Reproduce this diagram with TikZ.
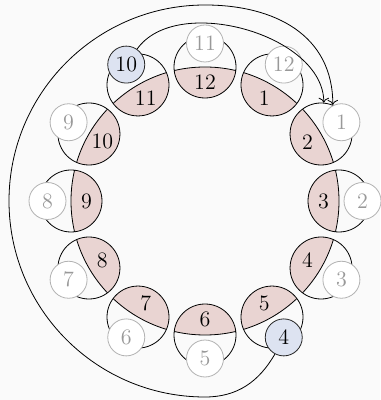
\documentclass[tikz,border=0pt]{standalone}
\usetikzlibrary{arrows.meta}
\definecolor{segpink}{RGB}{233,212,210}
\definecolor{markblue}{RGB}{221,227,241}
\definecolor{paper}{RGB}{250,250,250}
\tikzstyle{hour} = [draw, circle, minimum size=31pt, inner sep=0pt]
\tikzstyle{tag} = [draw=black!30, fill=white, circle, text=black!40, minimum size=18.5pt, inner sep=0pt]
\tikzstyle{marked} = [tag, draw=black!85, fill=markblue, text=black]
\tikzstyle{arrow} = [->]

\begin{document}
\begin{tikzpicture}[x=0.5pt, y=0.5pt, font=\fontsize{11}{13}\selectfont]
\useasboundingbox (-205,-199) rectangle (175,201);
\fill[paper] (-205,-199) rectangle (175,201);
% Hours
\foreach \i/\s in {1/tag, 2/tag, 3/tag, 4/tag, 5/marked, 6/tag, 7/tag, 8/tag, 9/tag, 10/tag, 11/marked, 12/tag} {
  \pgfmathsetmacro\a{90-30*\i}
  \pgfmathtruncatemacro\p{mod(\i+10,12)+1}
  \begin{scope}
    \clip (\a:134) circle [radius=31];
    \fill[segpink] (0,0) circle [radius=134];
    \draw (0,0) circle [radius=134];
  \end{scope}
  \node (hour\i) [hour] at (\a:134) {};
  \node (num\i) at (\a:118.5) {\i};
  \node (tag\i) [\s] at (\a:157.5) {\p};
}

% Edges
\draw [arrow] (tag11.55) to[out=55, in=90, looseness=0.9] (hour2.85);
\draw [arrow] (tag5.242) to[out=240, in=0] (0,-196) arc[start angle=-90, end angle=-270, radius=196] to[out=0, in=90, looseness=1.1] (hour2.68);
\end{tikzpicture}
\end{document}
